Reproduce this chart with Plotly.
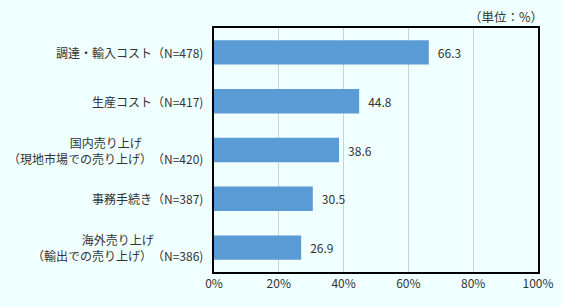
import plotly.graph_objects as go

categories = [
    "調達・輸入コスト（N=478)",
    "生産コスト（N=417)",
    "国内売り上げ<br>（現地市場での売り上げ）　（N=420)",
    "事務手続き（N=387)",
    "海外売り上げ<br>（輸出での売り上げ）　（N=386)",
]
values = [66.3, 44.8, 38.6, 30.5, 26.9]
x_ticks = [0, 20, 40, 60, 80, 100]
x_tick_labels = ["0%", "20%", "40%", "60%", "80%", "100%"]
unit_label = "（単位：%）"

FONT = "Noto Sans CJK JP, Meiryo, sans-serif"
TXT = "#333333"

fig = go.Figure(
    go.Bar(
        x=values,
        y=list(range(len(categories))),
        orientation="h",
        marker=dict(color="#5B9BD5", line=dict(width=0)),
        width=0.5,
        text=[f"\u2002{v:.1f}" for v in values],
        textposition="outside",
        textfont=dict(size=12, color=TXT, family=FONT),
        cliponaxis=False,
    )
)

annotations = []
for i, c in enumerate(categories):
    annotations.append(
        dict(
            x=0, xref="paper", xanchor="right", xshift=-9,
            y=i, yref="y", yanchor="middle",
            text=c, showarrow=False, align="center",
            font=dict(size=12, color=TXT, family=FONT),
        )
    )
annotations.append(
    dict(
        x=1, xref="paper", xanchor="right", xshift=7,
        y=1, yref="paper", yanchor="bottom", yshift=0,
        text=unit_label, showarrow=False,
        font=dict(size=12.5, color=TXT, family=FONT),
    )
)

fig.update_layout(
    width=561, height=307,
    autosize=False,
    margin=dict(l=214, r=23, t=28, b=35, pad=0),
    paper_bgcolor="#F0FFFF",
    plot_bgcolor="#F0FFFF",
    showlegend=False,
    annotations=annotations,
    font=dict(family=FONT, size=12, color=TXT),
    xaxis=dict(
        range=[0, 100],
        tickvals=x_ticks,
        ticktext=x_tick_labels,
        showgrid=True, gridcolor="#D0D0D0", gridwidth=1,
        showline=True, linecolor="black", linewidth=1.5, mirror=True,
        zeroline=False,
        ticks="", ticklen=0,
        tickfont=dict(size=12, color=TXT, family=FONT),
        automargin=False,
        fixedrange=True,
    ),
    yaxis=dict(
        range=[len(categories) - 0.5, -0.5],
        showticklabels=False,
        showgrid=False,
        showline=True, linecolor="black", linewidth=1.5, mirror=True,
        zeroline=False,
        ticks="",
        automargin=False,
        fixedrange=True,
    ),
)

fig.write_html("out.html", config={"displayModeBar": False})
